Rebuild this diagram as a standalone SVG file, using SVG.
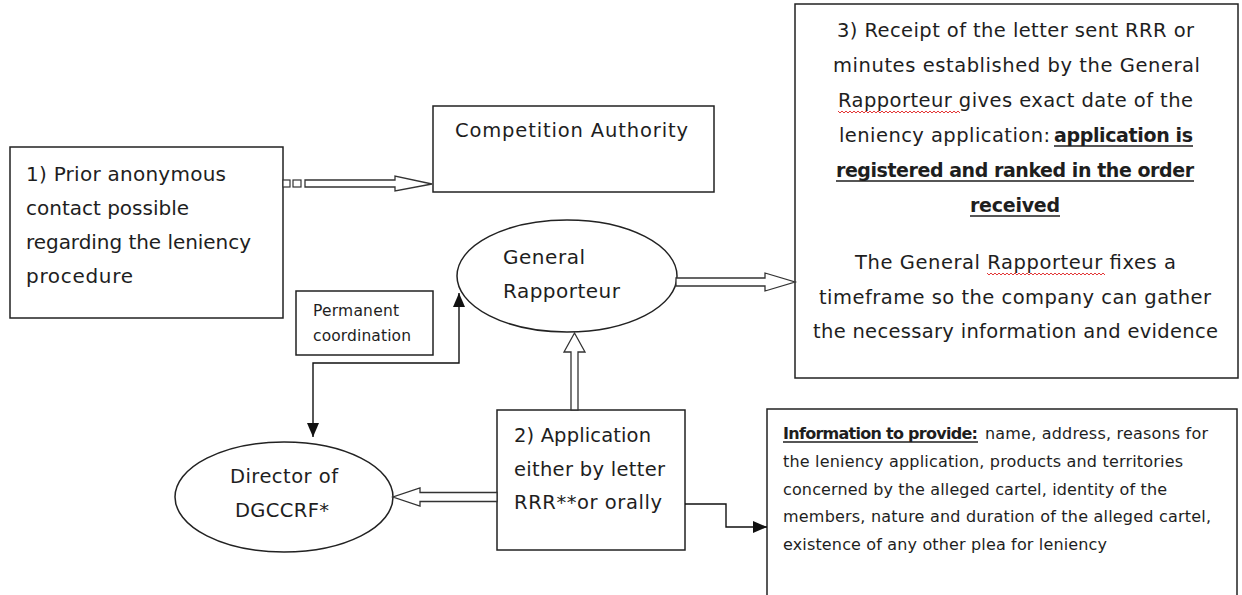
<svg xmlns="http://www.w3.org/2000/svg" width="1242" height="595" viewBox="0 0 1242 595">
<style>
  .box{fill:#fff;stroke:#222;stroke-width:1.5}
  .t{font-family:"DejaVu Sans","Liberation Sans",sans-serif;fill:#1e1e1e}
  .b{font-weight:bold}
  .blk{fill:#fff;stroke:#333;stroke-width:1.3}
  .ln{fill:none;stroke:#111;stroke-width:1.4}
  .ul{stroke:#1e1e1e;stroke-width:1.4}
  .sq{fill:none;stroke:#e02020;stroke-width:0.9}
</style>
<defs>
  <marker id="ah" markerUnits="userSpaceOnUse" markerWidth="14" markerHeight="12" viewBox="0 0 14 12" refX="14" refY="6" orient="auto-start-reverse">
    <path d="M0,0 L14,6 L0,12 z" fill="#111"/>
  </marker>
</defs>
<rect width="1242" height="595" fill="#fff"/>

<g id="box1">
  <rect class="box" x="10" y="147" width="273" height="171"/>
  <text class="t" font-size="20" x="26" y="181" textLength="200">1) Prior anonymous</text>
  <text class="t" font-size="20" x="26" y="215" textLength="163">contact possible</text>
  <text class="t" font-size="20" x="26" y="249" textLength="225">regarding the leniency</text>
  <text class="t" font-size="20" x="26" y="283" textLength="107">procedure</text>
</g>

<g id="competition-authority">
  <rect class="box" x="433" y="106" width="281" height="86"/>
  <text class="t" font-size="19.5" x="455" y="137" textLength="233">Competition Authority</text>
</g>

<g id="general-rapporteur">
  <ellipse class="box" cx="567" cy="276" rx="110" ry="56"/>
  <text class="t" font-size="20" x="503" y="264" textLength="82">General</text>
  <text class="t" font-size="20" x="503" y="298" textLength="117">Rapporteur</text>
</g>

<g id="permanent-coordination">
  <rect class="box" x="296" y="291" width="137" height="64"/>
  <text class="t" font-size="15.5" x="313" y="316" textLength="86">Permanent</text>
  <text class="t" font-size="15.5" x="313" y="341" textLength="98">coordination</text>
</g>

<g id="director">
  <ellipse class="box" cx="284" cy="497" rx="109" ry="55"/>
  <text class="t" font-size="19.5" x="230" y="483" textLength="108">Director of</text>
  <text class="t" font-size="19.5" x="235" y="517" textLength="94">DGCCRF*</text>
</g>

<g id="application">
  <rect class="box" x="497" y="410" width="188" height="140"/>
  <text class="t" font-size="19.5" x="514" y="442" textLength="137">2) Application</text>
  <text class="t" font-size="19.5" x="514" y="476" textLength="151">either by letter</text>
  <text class="t" font-size="19.5" x="514" y="509" textLength="148">RRR**or orally</text>
</g>

<g id="box3">
  <rect class="box" x="795" y="4" width="443" height="374"/>
  <text class="t" font-size="19.5" x="837" y="37" textLength="357">3) Receipt of the letter sent RRR or</text>
  <text class="t" font-size="19.5" x="833" y="72" textLength="367">minutes established by the General</text>
  <text class="t" font-size="19.5" x="838" y="107" textLength="355">Rapporteur gives exact date of the</text>
  <path class="sq" d="M838,111 l2,2 l2,-2 l2,2 l2,-2 l2,2 l2,-2 l2,2 l2,-2 l2,2 l2,-2 l2,2 l2,-2 l2,2 l2,-2 l2,2 l2,-2 l2,2 l2,-2 l2,2 l2,-2 l2,2 l2,-2 l2,2 l2,-2 l2,2 l2,-2 l2,2 l2,-2 l2,2 l2,-2 l2,2 l2,-2 l2,2 l2,-2 l2,2 l2,-2 l2,2 l2,-2 l2,2 l2,-2 l2,2 l2,-2 l2,2 l2,-2 l2,2 l2,-2 l2,2 l2,-2 l2,2 l2,-2 l2,2 l2,-2 l2,2 l2,-2 l2,2 l2,-2 l2,2 l2,-2 l2,2 l2,-2 l2,2"/>
  <text class="t" font-size="19.5" x="839" y="142" textLength="211">leniency application:</text>
  <text class="t b" font-size="19" x="1054" y="142" textLength="139">application is</text>
  <line class="ul" x1="1054" y1="146" x2="1193" y2="146"/>
  <text class="t b" font-size="19" x="836" y="177" textLength="358">registered and ranked in the order</text>
  <line class="ul" x1="836" y1="181" x2="1194" y2="181"/>
  <text class="t b" font-size="19" x="970" y="212" textLength="90">received</text>
  <line class="ul" x1="970" y1="216" x2="1060" y2="216"/>
  <text class="t" font-size="19.5" x="855" y="269" textLength="321">The General Rapporteur fixes a</text>
  <path class="sq" d="M987,273 l2,2 l2,-2 l2,2 l2,-2 l2,2 l2,-2 l2,2 l2,-2 l2,2 l2,-2 l2,2 l2,-2 l2,2 l2,-2 l2,2 l2,-2 l2,2 l2,-2 l2,2 l2,-2 l2,2 l2,-2 l2,2 l2,-2 l2,2 l2,-2 l2,2 l2,-2 l2,2 l2,-2 l2,2 l2,-2 l2,2 l2,-2 l2,2 l2,-2 l2,2 l2,-2 l2,2 l2,-2 l2,2 l2,-2 l2,2 l2,-2 l2,2 l2,-2 l2,2 l2,-2 l2,2 l2,-2 l2,2 l2,-2 l2,2 l2,-2 l2,2 l2,-2 l2,2 l2,-2 l2,2"/>
  <text class="t" font-size="19.5" x="819" y="304" textLength="392">timeframe so the company can gather</text>
  <text class="t" font-size="19.5" x="813" y="338" textLength="405">the necessary information and evidence</text>
</g>

<g id="information">
  <rect class="box" x="767" y="409" width="470" height="200"/>
  <text class="t b" font-size="16" x="783" y="439" textLength="195">Information to provide:</text>
  <line class="ul" x1="783" y1="442" x2="978" y2="442"/>
  <text class="t" font-size="16" x="985" y="439" textLength="223">name, address, reasons for</text>
  <text class="t" font-size="16" x="783" y="467" textLength="400">the leniency application, products  and territories</text>
  <text class="t" font-size="16" x="783" y="495" textLength="384">concerned by the alleged cartel, identity of the</text>
  <text class="t" font-size="16" x="783" y="522" textLength="428">members, nature and duration  of the alleged cartel,</text>
  <text class="t" font-size="16" x="783" y="550" textLength="324">existence of any other plea for leniency</text>
</g>

<g id="connectors">
  <rect x="283" y="180" width="7" height="7" fill="#fff" stroke="#333" stroke-width="1.2"/>
  <rect x="293" y="180" width="8" height="7" fill="#fff" stroke="#333" stroke-width="1.2"/>
  <polygon class="blk" points="305,180 395,180 395,176 432,184 395,191 395,187 305,187"/>
  <polygon class="blk" points="676,278 765,278 765,273 795,282 765,291 765,286 676,286"/>
  <polygon class="blk" points="571,410 571,352 564,352 574.5,333 585,352 578,352 578,410"/>
  <polygon class="blk" points="497,492.5 420,492.5 420,488 393,497 420,506 420,501.5 497,501.5"/>
  <path class="ln" d="M313,437 V363 H459 V293" marker-start="url(#ah)" marker-end="url(#ah)"/>
  <path class="ln" d="M685,504 H726 V527 H767" marker-end="url(#ah)"/>
</g>
</svg>
